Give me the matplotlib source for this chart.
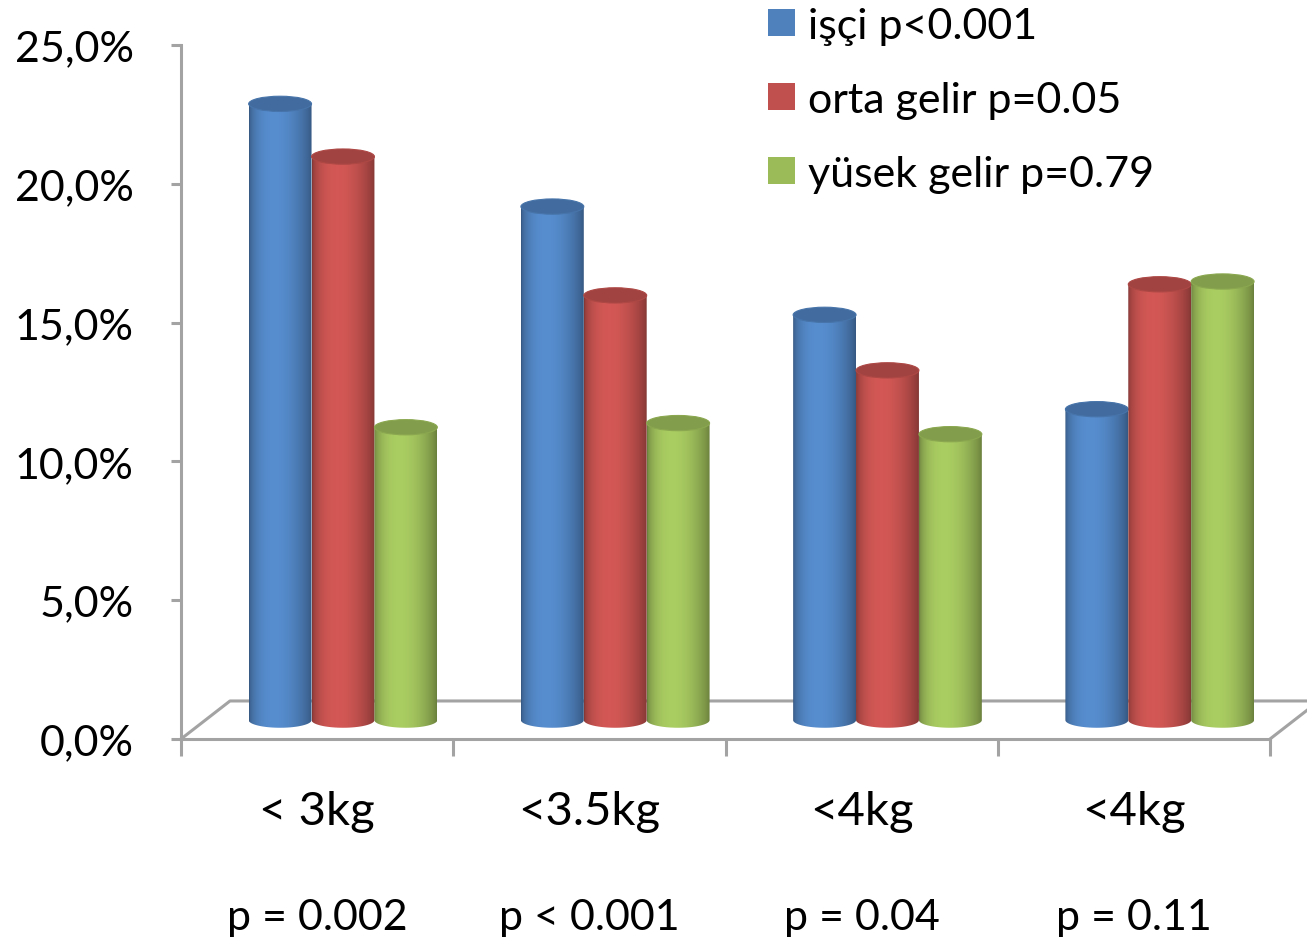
import matplotlib.pyplot as plt
import matplotlib.transforms as mtransforms
from matplotlib.patches import Polygon, Ellipse, Rectangle
import numpy as np

# data
categories = ["< 3kg", "<3.5kg", "<4kg", "<4kg"]
p_values = ["p = 0.002", "p < 0.001", "p = 0.04", "p = 0.11"]
series_names = ["işçi p<0.001", "orta gelir p=0.05", "yüsek gelir p=0.79"]
isci = [22.2, 18.5, 14.6, 11.2]
orta_gelir = [20.3, 15.3, 12.6, 15.7]
yusek_gelir = [10.55, 10.7, 10.3, 15.8]
series = [isci, orta_gelir, yusek_gelir]
colors = ["#4F81BD", "#C0504D", "#9BBB59"]

plt.rcParams['font.family'] = ['Lato', 'DejaVu Sans']
FS = 31
GRAY = '#a3a3a3'

W, H = 1307, 945
fig = plt.figure(figsize=(W / 100, H / 100), dpi=100)
ax = fig.add_axes([181 / W, (H - 740) / H, 1089 / W, 694 / H])
ax.set_xlim(0, 4)
ax.set_ylim(0, 25)

# 3d-ish floor
depth_x, depth_y = 0.18, 1.37
base = 0.68       # bar base sits half way into the floor
bar_w = 0.231
shift = 0.095
eh = 0.55         # ellipse height in data units

ax.plot([0, depth_x, 4 + depth_x], [0, depth_y, depth_y], color=GRAY, lw=2.2, clip_on=False, zorder=1)
ax.plot([4, 4 + depth_x], [0, depth_y], color=GRAY, lw=2.2, clip_on=False, zorder=1)


def shade_row(hexcol, n=80):
    rgb = np.array(plt.matplotlib.colors.to_rgb(hexcol))
    t = np.linspace(0, 1, n)
    f = 0.68 + 0.42 * np.sin(np.pi * t ** 0.756) ** 0.7
    return np.clip(rgb[None, None, :] * f[None, :, None], 0, 1)


for j, (vals, col) in enumerate(zip(series, colors)):
    for g, v in enumerate(vals):
        xc = g + 0.5 + shift + (j - 1) * bar_w
        x0, x1 = xc - bar_w / 2, xc + bar_w / 2
        top = base + v
        z = 3 + g * 0.1 + j * 0.01
        t = np.linspace(np.pi, 2 * np.pi, 60)
        arc = np.column_stack([xc + bar_w / 2 * np.cos(t), base + eh / 2 * np.sin(t)])
        pts = np.vstack([[x0, top], arc, [x1, top]])
        poly = Polygon(pts, closed=True, facecolor='none', edgecolor='none', zorder=z)
        ax.add_patch(poly)
        im = ax.imshow(shade_row(col), extent=(x0, x1, base - eh / 2, top), aspect='auto',
                       interpolation='bilinear', zorder=z)
        im.set_clip_path(poly)
        rgb = np.array(plt.matplotlib.colors.to_rgb(col))
        ax.add_patch(Ellipse((xc, top), bar_w, eh, facecolor=rgb * 0.84, edgecolor=rgb * 0.9,
                             lw=0.8, zorder=z + 0.001))

ax.set_xlim(0, 4)
ax.set_ylim(0, 25)

for s in ['top', 'right']:
    ax.spines[s].set_visible(False)
for s in ['left', 'bottom']:
    ax.spines[s].set_color(GRAY)
    ax.spines[s].set_linewidth(2.2)

ax.set_xticks(range(5))
ax.set_xticklabels([])
ax.tick_params(axis='x', direction='out', length=12, width=2.2, color=GRAY)
ax.set_yticks(np.arange(0, 26, 5))
ax.set_yticklabels([f"{v:.1f}%".replace('.', ',') for v in np.arange(0, 26, 5)], fontsize=FS)
ax.tick_params(axis='y', direction='out', length=7, width=2.2, color=GRAY, pad=27)

trans = mtransforms.blended_transform_factory(ax.transData, fig.transFigure)
for g, (c, p) in enumerate(zip(categories, p_values)):
    ax.text(g + 0.5, (H - 812) / H, c, transform=trans, ha='center', va='center', fontsize=34)
    ax.text(g + 0.5, (H - 918) / H, p, transform=trans, ha='center', va='center', fontsize=FS)

# legend
for i, (name, col) in enumerate(zip(series_names, colors)):
    bottom = 37 + i * 74
    fig.add_artist(Rectangle((768 / W, (H - bottom) / H), 27 / W, 27 / H, transform=fig.transFigure,
                             facecolor=col, edgecolor='none'))
    fig.text(808 / W, (H - bottom - 2) / H, name, fontsize=FS, ha='left', va='baseline')

fig.savefig('out.png', dpi=100)
